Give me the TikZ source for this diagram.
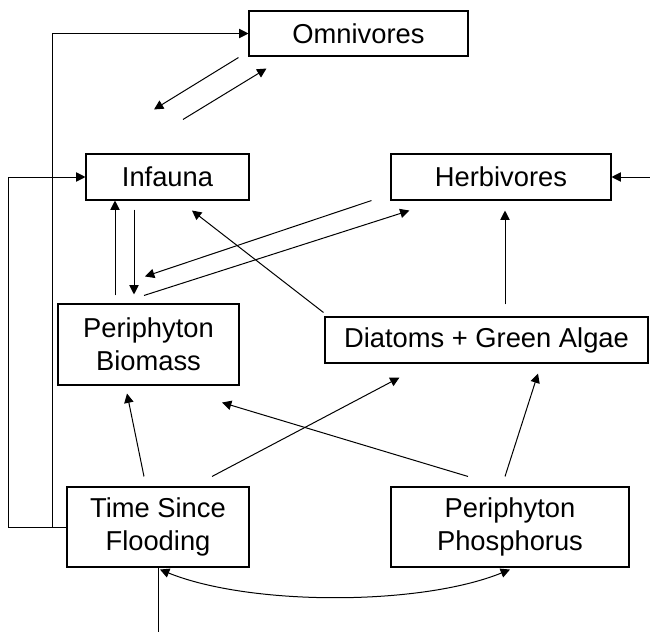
\documentclass[tikz,border=0pt]{standalone}
\usepackage{fontspec}
\setmainfont{Liberation Sans}
\usetikzlibrary{arrows.meta,calc}
\begin{document}
\begin{tikzpicture}[x=0.75pt,y=-0.75pt,
  box/.style={draw,line width=0.8pt,fill=white,inner sep=0pt,align=center,
    font=\fontsize{20.5}{25}\selectfont},
  link/.style={line width=0.75pt,-{Triangle[length=7pt,width=7pt]}},
  plain/.style={line width=0.75pt}]
\useasboundingbox (0,0) rectangle (650,632);

% boxes
\node[box,minimum width=219*0.75pt,minimum height=45*0.75pt] (omni) at (358.5,33.5) {Omnivores};
\node[box,minimum width=163*0.75pt,minimum height=46*0.75pt] (inf) at (167.5,177) {Infauna};
\node[box,minimum width=220*0.75pt,minimum height=46*0.75pt] (herb) at (501,177) {Herbivores};
\node[box,minimum width=181*0.75pt,minimum height=81*0.75pt] (pb) at (148.5,344.5) {Periphyton\\Biomass};
\node[box,minimum width=323*0.75pt,minimum height=46*0.75pt] (diat) at (486.5,340) {Diatoms + Green Algae};
\node[box,minimum width=182*0.75pt,minimum height=80*0.75pt] (tsf) at (158,527) {Time Since\\Flooding};
\node[box,minimum width=238*0.75pt,minimum height=80*0.75pt] (pp) at (510,527) {Periphyton\\Phosphorus};

% free ends
\coordinate (outer) at (8,527);
\coordinate (inner) at (52,527);
\coordinate (east) at (650,177);
\coordinate (south) at (158,632);

% feedback from time since flooding
\draw[link] (tsf.west) -- (inner) |- (omni.west);
\draw[link] (tsf.west) -- (outer) |- (inf.west);

% external input to herbivores and to time since flooding
\draw[link] (east) -- (herb.east);
\draw[plain] (south) -- ([xshift=0pt]tsf.south);

% omnivores <-> infauna
\draw[link] ([shift={(-10,1)}]omni.south west) -- ([shift={(-13.5,-44)}]inf.north);
\draw[link] ([shift={(15.5,-34)}]inf.north) -- ([shift={(18,12)}]omni.south west);

% infauna <-> periphyton biomass
\draw[link] ([shift={(-33.5,-8)}]pb.north) -- ([shift={(-52.5,0)}]inf.south);
\draw[link] ([shift={(-33.5,9)}]inf.south) -- ([shift={(-14.5,-9)}]pb.north);

% herbivores <-> periphyton biomass
\draw[link] ([shift={(-19,0)}]herb.south west) -- ([shift={(-3.5,-27)}]pb.north);
\draw[link] ([shift={(-4.5,-8)}]pb.north) -- ([shift={(19,10)}]herb.south west);

% diatoms + green algae to consumers
\draw[link] ([shift={(-1,-4)}]diat.north west) -- ([shift={(24.5,10)}]inf.south);
\draw[link] ([shift={(18.5,-12)}]diat.north) -- ([shift={(4,10)}]herb.south);

% drivers to periphyton
\draw[link] ([shift={(-14,-10)}]tsf.north) -- ([shift={(-21.5,8)}]pb.south);
\draw[link] ([shift={(54,-10)}]tsf.north) -- ([shift={(75,14)}]diat.south west);
\draw[link] ([shift={(-42,-10)}]pp.north) -- ([shift={(73.5,17)}]pb.south);
\draw[link] ([shift={(-5,-10)}]pp.north) -- ([shift={(51.5,10)}]diat.south);

% time since flooding <-> periphyton phosphorus
\draw[line width=0.75pt,{Triangle[length=7pt,width=7pt]}-{Triangle[length=7pt,width=7pt]}]
  ([shift={(2,2)}]tsf.south) .. controls (250,606) and (420,606) .. ([shift={(0,2)}]pp.south);
\end{tikzpicture}
\end{document}
